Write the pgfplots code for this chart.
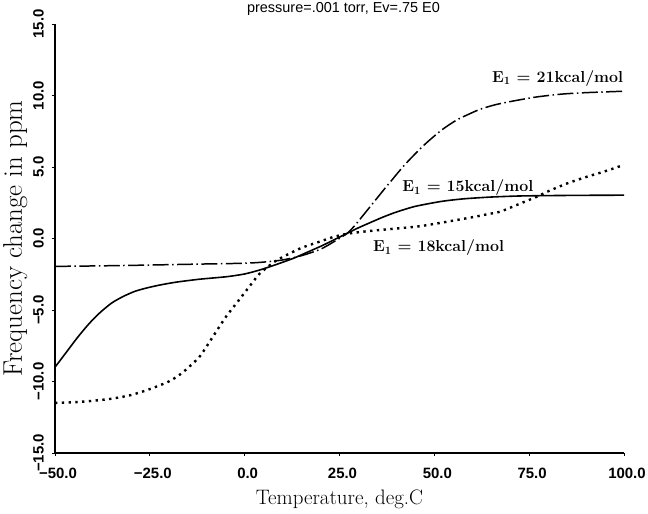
\documentclass[border=0pt]{standalone}
\usepackage{fontspec}
\usepackage{pgfplots}
\pgfplotsset{compat=1.18}
\newfontfamily\tickfont{Liberation Sans}
\begin{document}
\begin{tikzpicture}
\useasboundingbox (-55bp,-61bp) rectangle (593bp,453bp);
\begin{axis}[
  at={(0,0)}, anchor=south west,
  scale only axis, width=569bp, height=429bp,
  xmin=-50, xmax=100, ymin=-15, ymax=15,
  enlargelimits=false, clip=false,
  axis lines=left,
  axis line style={-, line width=1.3pt},
  tick align=outside,
  major tick length=3bp,
  tick style={line width=1pt, black},
  xtick={-50,-25,0,25,50,75,100},
  xticklabels={−50.0,−25.0,0.0,25.0,50.0,75.0,100.0},
  ytick={-15,-10,-5,0,5,10,15},
  yticklabels={−15.0,−10.0,−5.0,0.0,5.0,10.0,15.0},
  xticklabel style={font=\tickfont\bfseries\fontsize{15}{15}\selectfont, anchor=north, inner sep=0pt, yshift=-12bp, xshift=3bp},
  yticklabel style={font=\tickfont\bfseries\fontsize{15}{15}\selectfont, rotate=90, anchor=south, inner sep=0pt, yshift=8bp},
  xlabel={Temperature, deg.C},
  ylabel={Frequency change in ppm},
  xlabel style={font=\fontsize{21}{21}\selectfont, anchor=base, at={(axis description cs:0.5,-0.121)}},
  ylabel style={font=\fontsize{27}{27}\selectfont, anchor=base, at={(axis description cs:-0.058,0.5)}},
]
% E1 = 21 kcal/mol
\addplot[black, line width=1.5pt, dash pattern=on 16pt off 3.5pt on 1.5pt off 3.5pt, smooth, tension=0.4] coordinates {
(-50,-1.95) (-40,-1.92) (-30,-1.88) (-20,-1.83) (-10,-1.78) (0,-1.73) (5,-1.65)
(10,-1.5) (15,-1.2) (20,-0.75) (24,-0.15) (27,0.36) (29,0.9) (33,2.2) (36.5,3.35)
(39,4.15) (42,5.1) (45.8,6.15) (48.4,6.8) (52,7.6) (56,8.3) (61.7,9.0) (66,9.35)
(70.5,9.6) (77,9.9) (83.7,10.1) (90,10.2) (100,10.3)};
% E1 = 15 kcal/mol
\addplot[black, line width=1.6pt, smooth, tension=0.4] coordinates {
(-50,-9.0) (-47,-7.95) (-44,-6.9) (-41,-5.95) (-38,-5.15) (-35,-4.5) (-32,-4.05)
(-29,-3.7) (-26,-3.47) (-22.3,-3.25) (-18,-3.05) (-12,-2.85) (-4.7,-2.67) (0,-2.48)
(4,-2.2) (8,-1.85) (12.8,-1.39) (16,-1.02) (20,-0.55) (23.5,-0.1) (27,0.36)
(30,0.75) (33,1.1) (36.5,1.5) (40,1.85) (45,2.25) (52,2.6) (58,2.78) (65,2.9)
(72,2.97) (80,3.0) (90,3.02) (100,3.03)};
% E1 = 18 kcal/mol
\addplot[black, line width=2.4pt, dash pattern=on 2.4pt off 4.4pt, smooth, tension=0.4] coordinates {
(-50,-11.5) (-45,-11.45) (-40,-11.35) (-35,-11.2) (-30,-10.95) (-25.3,-10.56)
(-20,-10.0) (-16.5,-9.4) (-12,-8.3) (-8.7,-7.0) (-5,-5.5) (-1.2,-4.2) (2,-3.1)
(4.05,-2.43) (8,-1.6) (11.1,-1.15) (15,-0.65) (19,-0.29) (23.3,0.1) (27,0.33)
(32,0.5) (38,0.65) (45.3,0.83) (50,1.02) (55,1.25) (60.7,1.52) (64,1.7) (67.3,1.87)
(71.7,2.34) (75,2.7) (77,2.92) (80,3.3) (85,3.85) (90,4.3) (95,4.7) (100,5.15)};
\node[anchor=base west, inner sep=0pt, font=\bfseries\fontsize{16}{16}\selectfont] at (axis cs:65.2,10.94) {E\textsubscript{1} = 21kcal/mol};
\node[anchor=base west, inner sep=0pt, font=\bfseries\fontsize{16}{16}\selectfont] at (axis cs:41.5,3.27) {E\textsubscript{1} = 15kcal/mol};
\node[anchor=base west, inner sep=0pt, font=\bfseries\fontsize{16}{16}\selectfont] at (axis cs:33.8,-0.92) {E\textsubscript{1} = 18kcal/mol};
\node[anchor=base, inner sep=0pt, font=\tickfont\fontsize{14.5}{14.5}\selectfont] at (axis description cs:0.507,1.027) {pressure=.001 torr, Ev=.75 E0};
\end{axis}
\end{tikzpicture}
\end{document}
